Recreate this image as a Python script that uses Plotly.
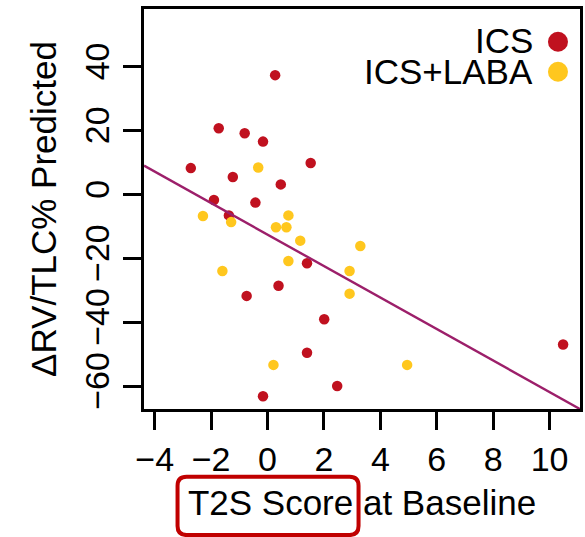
import plotly.graph_objects as go

# ---- data ----
ics_x = [0.27, -1.73, -0.81, -0.16, -2.72, 1.53, -1.23, 0.47, -1.90, -0.43,
         -1.37, 1.40, 0.39, -0.74, 2.01, 1.40, 10.48, 2.47, -0.16]
ics_y = [37.3, 20.7, 19.1, 16.5, 8.2, 9.8, 5.4, 3.1, -1.8, -2.6,
         -6.6, -21.6, -28.6, -31.8, -39.1, -49.6, -47.0, -60.0, -63.2]
laba_x = [-0.33, -2.29, -1.29, 0.74, 0.30, 0.67, 1.16, 3.29, 0.74, -1.60,
          2.91, 2.91, 0.21, 4.95]
laba_y = [8.4, -6.8, -8.7, -6.6, -10.3, -10.3, -14.5, -16.2, -20.9, -24.0,
          -24.0, -31.1, -53.4, -53.4]
fit_intercept = -12.6
fit_slope = -4.93
x_range = [-4.38, 11.08]
y_range = [-67.2, 58.0]
x_ticks = [-4, -2, 0, 2, 4, 6, 8, 10]
y_ticks = [-60, -40, -20, 0, 20, 40]
series_names = ["ICS", "ICS+LABA"]

RED = "#C0111F"
YEL = "#FFC71E"
LINE = "#9C1F6A"
FONT = "Liberation Sans, Arial, Helvetica, sans-serif"

fig = go.Figure()
fig.add_trace(go.Scatter(x=ics_x, y=ics_y, mode="markers", name=series_names[0],
                         marker=dict(color=RED, size=10.5, line=dict(width=0))))
fig.add_trace(go.Scatter(x=laba_x, y=laba_y, mode="markers", name=series_names[1],
                         marker=dict(color=YEL, size=10.5, line=dict(width=0))))
fit_y = [fit_intercept + fit_slope * xv for xv in x_range]
fig.add_trace(go.Scatter(x=x_range, y=fit_y, mode="lines", showlegend=False,
                         line=dict(color=LINE, width=2.4)))

fig.update_layout(
    width=585, height=537,
    margin=dict(l=144, r=2, t=9, b=128),
    paper_bgcolor="white", plot_bgcolor="white",
    showlegend=False,
    font=dict(family=FONT, color="black", size=34),
)
fig.update_xaxes(range=x_range, tickvals=x_ticks, showgrid=False, zeroline=False,
                 showline=True, mirror=True, linewidth=3, linecolor="black",
                 ticks="outside", ticklen=18, tickwidth=3, tickcolor="black",
                 tickfont=dict(size=34, family=FONT),
                 title=dict(text="T2S Score at Baseline", font=dict(size=35, family=FONT), standoff=14))
fig.update_yaxes(range=y_range, tickvals=y_ticks, showgrid=False, zeroline=False,
                 showline=True, mirror=True, linewidth=3, linecolor="black",
                 ticks="outside", ticklen=18, tickwidth=3, tickcolor="black",
                 tickangle=-90,
                 tickfont=dict(size=34, family=FONT),
                 title=dict(text="ΔRV/TLC% Predicted", font=dict(size=35, family=FONT), standoff=12))

# legend drawn as text + circles (symbol on the right as in the reference)
for name, col, ty, cy in [(series_names[0], RED, 0.92125, 0.91825),
                          (series_names[1], YEL, 0.84425, 0.84325)]:
    fig.add_annotation(xref="paper", yref="paper", x=0.896, y=ty, text=name,
                       showarrow=False, xanchor="right", yanchor="middle",
                       height=26, valign="middle",
                       font=dict(size=35, family=FONT, color="black"))
    fig.add_shape(type="circle", xref="paper", yref="paper",
                  xsizemode="pixel", ysizemode="pixel", xanchor=0.9495, yanchor=cy,
                  x0=-10, x1=10, y0=-10, y1=10, fillcolor=col, line=dict(width=0))

# rounded highlight box around "T2S Score"
w, h, r = 90.5, 29.2, 9
path = (f"M {-w+r},{-h} L {w-r},{-h} Q {w},{-h} {w},{-h+r} L {w},{h-r} Q {w},{h} {w-r},{h} "
        f"L {-w+r},{h} Q {-w},{h} {-w},{h-r} L {-w},{-h+r} Q {-w},{-h} {-w+r},{-h} Z")
fig.add_shape(type="path", xref="paper", yref="paper", xsizemode="pixel", ysizemode="pixel",
              xanchor=0.2845, yanchor=-0.2421, path=path,
              line=dict(color="#C00000", width=4), fillcolor="rgba(0,0,0,0)")

fig.write_html("out.html")
